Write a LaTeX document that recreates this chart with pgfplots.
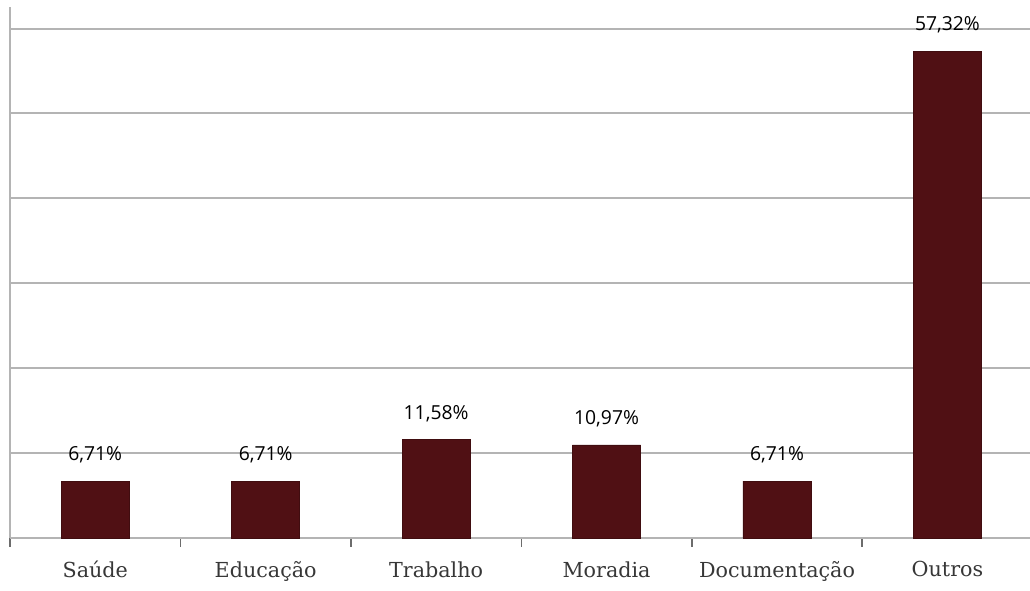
\documentclass[border=0pt]{standalone}
\usepackage{pgfplots}
\pgfplotsset{compat=1.18}
\usepackage{fontspec}
\setmainfont{DejaVu Serif}
\newfontfamily\labfont{Open Sans}
\definecolor{barred}{RGB}{80,16,20}
\definecolor{gridgray}{RGB}{180,180,180}
\definecolor{catgray}{RGB}{55,55,55}

\begin{document}
\begin{tikzpicture}[x=0.75pt,y=0.75pt]
  \begin{axis}[
    at={(0,0)}, anchor=south west,
    scale only axis,
    width=767pt, height=398pt,
    xmin=-0.5, xmax=5.5,
    ymin=0, ymax=62.5,
    axis line style={draw=gridgray, line width=1.4pt},
    axis x line*=bottom,
    axis y line*=left,
    ytick={10,20,30,40,50,60},
    yticklabels={},
    ymajorgrids,
    grid style={gridgray, line width=1.5pt},
    major y tick style={draw=none},
    xtick={-0.5,0.5,1.5,2.5,3.5,4.5,5.5},
    xticklabels={},
    major tick length=6.5pt,
    x tick style={draw=gridgray!60!black, line width=1.1pt},
    tick align=outside,
    extra x ticks={0,1,2,3,4,5},
    extra x tick labels={Saúde,Educação,Trabalho,Moradia,Documentação,Outros},
    extra x tick style={major tick length=0pt, tick style={draw=none},
      xticklabel style={font=\fontsize{15.5}{17}\selectfont, text=catgray, yshift=-14pt}},
    bar width=0.4,
    nodes near coords={\pgfmathprintnumber[fixed,fixed zerofill,precision=2,use comma,assume math mode=true]{\pgfplotspointmeta}\%},
    every node near coord/.append style={font=\labfont\fontsize{14.5}{16}\selectfont, text=black, yshift=10pt},
    clip=false,
  ]
    \addplot[ybar, fill=barred, draw=barred!80!black] coordinates {
      (0,6.71) (1,6.71) (2,11.58) (3,10.97) (4,6.71) (5,57.32)
    };
  \end{axis}
  \pgfresetboundingbox
  \path[use as bounding box] (-10,-52) rectangle (1020,7+531);
\end{tikzpicture}
\end{document}
